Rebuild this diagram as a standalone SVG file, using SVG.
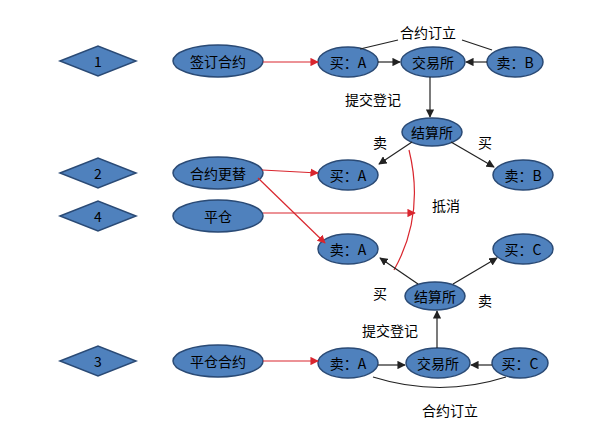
<svg xmlns="http://www.w3.org/2000/svg" width="612" height="433" viewBox="0 0 612 433">
<style>
.n{fill:#4f81bd;stroke:#2a4a75;stroke-width:1.5}
text{font-family:"Noto Sans CJK SC","Liberation Sans",sans-serif;font-size:14px;text-anchor:middle;dominant-baseline:central;fill:#000}
.r{stroke:#d9262e;stroke-width:1.2;fill:none}
.k{stroke:#222;stroke-width:1.2;fill:none}
</style>
<defs>
<marker id="ar" viewBox="0 0 10 10" refX="9" refY="5" markerWidth="7" markerHeight="7" orient="auto"><path d="M0,0L10,5L0,10z" fill="#d9262e"/></marker>
<marker id="ak" viewBox="0 0 10 10" refX="9" refY="5" markerWidth="7" markerHeight="7" orient="auto"><path d="M0,0L10,5L0,10z" fill="#222"/></marker>
</defs>
<rect width="612" height="433" fill="#fff"/>
<g id="d1"><polygon class="n" points="60,61 98,46 136,61 98,76"/><text x="98" y="61">1</text></g>
<g id="d2"><polygon class="n" points="60,173 98,158 136,173 98,188"/><text x="98" y="173">2</text></g>
<g id="d4"><polygon class="n" points="60,216 98,201 136,216 98,231"/><text x="98" y="216">4</text></g>
<g id="d3"><polygon class="n" points="60,361 98,346 136,361 98,376"/><text x="98" y="361">3</text></g>
<g id="l1"><ellipse class="n" cx="218" cy="61" rx="45" ry="16"/><text x="218" y="61">签订合约</text></g>
<g id="l2"><ellipse class="n" cx="218" cy="173" rx="45" ry="16"/><text x="218" y="173">合约更替</text></g>
<g id="l4"><ellipse class="n" cx="218" cy="216" rx="45" ry="16"/><text x="218" y="216">平仓</text></g>
<g id="l3"><ellipse class="n" cx="218" cy="361" rx="45" ry="16"/><text x="218" y="361">平仓合约</text></g>
<g id="a1"><ellipse class="n" cx="348" cy="62" rx="30" ry="15"/><text x="348" y="62">买：A</text></g>
<g id="x1"><ellipse class="n" cx="433" cy="62" rx="32" ry="15"/><text x="433" y="62">交易所</text></g>
<g id="b1"><ellipse class="n" cx="515" cy="62" rx="28" ry="15"/><text x="515" y="62">卖：B</text></g>
<g id="c1"><ellipse class="n" cx="432" cy="132" rx="30" ry="14"/><text x="432" y="132">结算所</text></g>
<g id="a2"><ellipse class="n" cx="348" cy="175" rx="30" ry="15"/><text x="348" y="175">买：A</text></g>
<g id="b2"><ellipse class="n" cx="523" cy="175" rx="30" ry="15"/><text x="523" y="175">卖：B</text></g>
<g id="a3"><ellipse class="n" cx="348" cy="249" rx="30" ry="15"/><text x="348" y="249">卖：A</text></g>
<g id="cc"><ellipse class="n" cx="523" cy="249" rx="30" ry="15"/><text x="523" y="249">买：C</text></g>
<g id="c2"><ellipse class="n" cx="435" cy="296" rx="30" ry="14"/><text x="435" y="296">结算所</text></g>
<g id="a4"><ellipse class="n" cx="348" cy="363" rx="30" ry="15"/><text x="348" y="363">卖：A</text></g>
<g id="x2"><ellipse class="n" cx="438" cy="363" rx="32" ry="15"/><text x="438" y="363">交易所</text></g>
<g id="c3"><ellipse class="n" cx="520" cy="363" rx="28" ry="15"/><text x="520" y="363">买：C</text></g>
<g id="connectors">
<line class="r" x1="263" y1="62" x2="318" y2="62" marker-end="url(#ar)"/>
<line class="r" x1="262" y1="170" x2="318" y2="173" marker-end="url(#ar)"/>
<line class="r" x1="258" y1="178" x2="325" y2="243" marker-end="url(#ar)"/>
<line class="r" x1="263" y1="213" x2="415" y2="213" marker-end="url(#ar)"/>
<line class="r" x1="263" y1="361" x2="318" y2="361" marker-end="url(#ar)"/>
<path class="r" d="M409,150 Q425,215 394,270"/>
<line class="k" x1="378" y1="62" x2="400" y2="62" marker-end="url(#ak)"/>
<line class="k" x1="487" y1="62" x2="466" y2="62" marker-end="url(#ak)"/>
<line class="k" x1="430" y1="77" x2="430" y2="117" marker-end="url(#ak)"/>
<line class="k" x1="412" y1="142" x2="379" y2="164" marker-end="url(#ak)"/>
<line class="k" x1="451" y1="142" x2="494" y2="167" marker-end="url(#ak)"/>
<line class="k" x1="418" y1="284" x2="380" y2="258" marker-end="url(#ak)"/>
<line class="k" x1="453" y1="284" x2="497" y2="258" marker-end="url(#ak)"/>
<line class="k" x1="437" y1="348" x2="437" y2="311" marker-end="url(#ak)"/>
<line class="k" x1="378" y1="365" x2="405" y2="365" marker-end="url(#ak)"/>
<line class="k" x1="492" y1="365" x2="471" y2="365" marker-end="url(#ak)"/>
<path class="k" d="M360,49 L398,40"/>
<path class="k" d="M462,40 L492,50"/>
<path class="k" d="M373,377 Q440,398 506,377"/>
</g>
<text x="428" y="32">合约订立</text>
<text x="373" y="99">提交登记</text>
<text x="380" y="142">卖</text>
<text x="485" y="142">买</text>
<text x="446" y="205">抵消</text>
<text x="380" y="293">买</text>
<text x="485" y="300">卖</text>
<text x="390" y="330">提交登记</text>
<text x="450" y="410">合约订立</text>
</svg>
